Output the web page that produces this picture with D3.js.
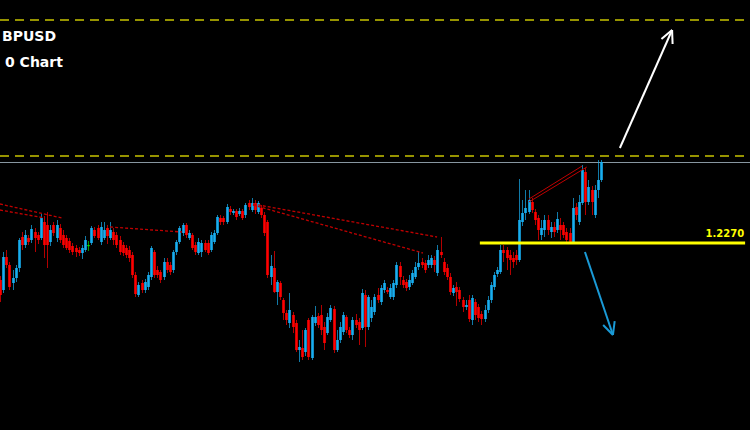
<!DOCTYPE html>
<html><head><meta charset="utf-8">
<script src="https://cdn.jsdelivr.net/npm/d3@7/dist/d3.min.js"></script>
<style>html,body{margin:0;padding:0;background:#000;overflow:hidden}</style>
</head><body><svg id="c" width="750" height="430"></svg>
<script>
// ---- DATA ----
const symbolText = "BPUSD";
const periodText = "0 Chart";
// [open, high, low, close]
const candleRows = [
[1.2233,1.2237,1.2211,1.2218],[1.2223,1.2261,1.2220,1.2256],[1.2256,1.2263,1.2245,1.2248],[1.2248,1.2251,1.2223,1.2226],
[1.2230,1.2243,1.2223,1.2235],[1.2235,1.2248,1.2231,1.2245],[1.2245,1.2275,1.2241,1.2273],[1.2276,1.2281,1.2263,1.2268],
[1.2268,1.2283,1.2265,1.2278],[1.2275,1.2278,1.2268,1.2271],[1.2273,1.2288,1.2270,1.2284],[1.2281,1.2285,1.2261,1.2275],
[1.2278,1.2281,1.2269,1.2273],[1.2275,1.2299,1.2273,1.2295],[1.2291,1.2297,1.2255,1.2268],[1.2288,1.2301,1.2245,1.2268],
[1.2271,1.2288,1.2267,1.2283],[1.2288,1.2291,1.2277,1.2280],[1.2275,1.2293,1.2271,1.2288],[1.2285,1.2289,1.2270,1.2273],
[1.2278,1.2283,1.2265,1.2268],[1.2275,1.2278,1.2263,1.2265],[1.2272,1.2275,1.2260,1.2263],[1.2267,1.2270,1.2258,1.2261],
[1.2265,1.2268,1.2256,1.2261],[1.2263,1.2266,1.2257,1.2260],[1.2260,1.2268,1.2254,1.2265],[1.2263,1.2277,1.2261,1.2273],
[1.2268,1.2272,1.2262,1.2268],[1.2270,1.2287,1.2268,1.2285],[1.2283,1.2286,1.2275,1.2277],[1.2285,1.2288,1.2273,1.2275],
[1.2271,1.2291,1.2268,1.2286],[1.2275,1.2291,1.2273,1.2283],[1.2285,1.2288,1.2269,1.2277],[1.2275,1.2291,1.2273,1.2283],
[1.2281,1.2285,1.2268,1.2273],[1.2278,1.2281,1.2265,1.2268],[1.2273,1.2277,1.2258,1.2261],[1.2268,1.2271,1.2257,1.2260],
[1.2265,1.2268,1.2255,1.2258],[1.2263,1.2267,1.2251,1.2255],[1.2258,1.2261,1.2235,1.2238],[1.2238,1.2241,1.2216,1.2219],
[1.2218,1.2231,1.2216,1.2228],[1.2230,1.2233,1.2220,1.2223],[1.2223,1.2234,1.2220,1.2231],[1.2226,1.2241,1.2223,1.2238],
[1.2236,1.2267,1.2233,1.2265],[1.2261,1.2263,1.2235,1.2238],[1.2243,1.2247,1.2235,1.2238],[1.2241,1.2243,1.2230,1.2233],
[1.2236,1.2255,1.2233,1.2251],[1.2251,1.2255,1.2240,1.2243],[1.2248,1.2251,1.2238,1.2241],[1.2243,1.2263,1.2240,1.2261],
[1.2261,1.2273,1.2258,1.2271],[1.2271,1.2287,1.2269,1.2285],[1.2280,1.2290,1.2277,1.2288],[1.2288,1.2290,1.2275,1.2278],
[1.2275,1.2283,1.2273,1.2280],[1.2278,1.2280,1.2263,1.2265],[1.2268,1.2271,1.2258,1.2261],[1.2260,1.2275,1.2258,1.2271],
[1.2261,1.2273,1.2256,1.2270],[1.2270,1.2273,1.2261,1.2263],[1.2270,1.2273,1.2258,1.2260],[1.2263,1.2281,1.2261,1.2278],
[1.2271,1.2283,1.2269,1.2280],[1.2280,1.2298,1.2278,1.2296],[1.2295,1.2298,1.2288,1.2291],[1.2295,1.2297,1.2288,1.2291],
[1.2291,1.2309,1.2289,1.2306],[1.2304,1.2307,1.2298,1.2301],[1.2300,1.2304,1.2298,1.2302],[1.2302,1.2304,1.2293,1.2296],
[1.2299,1.2305,1.2297,1.2302],[1.2302,1.2304,1.2293,1.2295],[1.2298,1.2310,1.2295,1.2308],[1.2310,1.2313,1.2303,1.2306],
[1.2303,1.2315,1.2301,1.2310],[1.2310,1.2313,1.2299,1.2303],[1.2301,1.2312,1.2299,1.2310],[1.2305,1.2308,1.2295,1.2298],
[1.2298,1.2301,1.2277,1.2280],[1.2291,1.2293,1.2235,1.2238],[1.2236,1.2258,1.2228,1.2247],[1.2245,1.2262,1.2220,1.2221],
[1.2221,1.2233,1.2208,1.2231],[1.2230,1.2232,1.2213,1.2216],[1.2213,1.2215,1.2193,1.2200],[1.2200,1.2203,1.2188,1.2193],
[1.2190,1.2220,1.2185,1.2203],[1.2198,1.2201,1.2180,1.2186],[1.2190,1.2193,1.2161,1.2163],[1.2163,1.2173,1.2151,1.2166],
[1.2165,1.2183,1.2153,1.2156],[1.2161,1.2185,1.2157,1.2183],[1.2193,1.2195,1.2153,1.2156],[1.2155,1.2198,1.2153,1.2196],
[1.2190,1.2207,1.2187,1.2196],[1.2197,1.2200,1.2185,1.2188],[1.2198,1.2208,1.2178,1.2183],[1.2186,1.2191,1.2163,1.2170],
[1.2180,1.2200,1.2178,1.2196],[1.2193,1.2208,1.2191,1.2205],[1.2204,1.2207,1.2160,1.2163],[1.2163,1.2183,1.2161,1.2173],
[1.2173,1.2191,1.2170,1.2186],[1.2181,1.2201,1.2178,1.2198],[1.2196,1.2198,1.2180,1.2183],[1.2183,1.2186,1.2175,1.2178],
[1.2178,1.2196,1.2173,1.2193],[1.2193,1.2199,1.2185,1.2188],[1.2191,1.2195,1.2168,1.2183],[1.2185,1.2224,1.2183,1.2220],
[1.2218,1.2223,1.2166,1.2186],[1.2186,1.2218,1.2183,1.2216],[1.2195,1.2213,1.2191,1.2206],[1.2201,1.2219,1.2198,1.2216],
[1.2218,1.2225,1.2210,1.2213],[1.2211,1.2228,1.2208,1.2225],[1.2223,1.2233,1.2220,1.2230],[1.2223,1.2226,1.2219,1.2221],
[1.2216,1.2229,1.2214,1.2225],[1.2216,1.2233,1.2213,1.2230],[1.2228,1.2251,1.2225,1.2248],[1.2247,1.2251,1.2228,1.2236],
[1.2233,1.2237,1.2225,1.2228],[1.2231,1.2234,1.2222,1.2225],[1.2226,1.2238,1.2223,1.2233],[1.2230,1.2243,1.2228,1.2240],
[1.2236,1.2251,1.2234,1.2246],[1.2246,1.2262,1.2243,1.2250],[1.2251,1.2255,1.2245,1.2248],[1.2250,1.2253,1.2240,1.2243],
[1.2248,1.2258,1.2245,1.2253],[1.2248,1.2258,1.2245,1.2255],[1.2253,1.2257,1.2241,1.2248],[1.2240,1.2268,1.2237,1.2263],
[1.2261,1.2276,1.2255,1.2258],[1.2251,1.2255,1.2238,1.2241],[1.2245,1.2249,1.2233,1.2236],[1.2236,1.2240,1.2218,1.2221],
[1.2220,1.2228,1.2217,1.2225],[1.2226,1.2231,1.2207,1.2221],[1.2223,1.2226,1.2211,1.2214],[1.2213,1.2216,1.2201,1.2206],
[1.2206,1.2213,1.2203,1.2208],[1.2213,1.2218,1.2191,1.2194],[1.2193,1.2218,1.2188,1.2215],[1.2211,1.2214,1.2193,1.2198],
[1.2206,1.2209,1.2191,1.2195],[1.2199,1.2202,1.2188,1.2194],[1.2194,1.2208,1.2191,1.2203],[1.2203,1.2217,1.2200,1.2213],
[1.2213,1.2231,1.2210,1.2228],[1.2226,1.2241,1.2223,1.2238],[1.2239,1.2246,1.2236,1.2243],[1.2241,1.2268,1.2239,1.2263],
[1.2263,1.2268,1.2251,1.2260],[1.2263,1.2266,1.2243,1.2255],[1.2258,1.2263,1.2238,1.2253],[1.2255,1.2261,1.2245,1.2251],
[1.2258,1.2263,1.2248,1.2253],[1.2253,1.2334,1.2251,1.2293],[1.2291,1.2313,1.2287,1.2300],[1.2300,1.2323,1.2293,1.2305],
[1.2301,1.2323,1.2299,1.2313],[1.2311,1.2315,1.2300,1.2303],[1.2301,1.2304,1.2288,1.2293],[1.2295,1.2298,1.2273,1.2283],
[1.2278,1.2293,1.2273,1.2285],[1.2283,1.2298,1.2276,1.2293],[1.2293,1.2298,1.2278,1.2283],[1.2281,1.2291,1.2275,1.2286],
[1.2286,1.2291,1.2276,1.2281],[1.2283,1.2301,1.2280,1.2294],[1.2288,1.2295,1.2273,1.2283],[1.2288,1.2291,1.2275,1.2278],
[1.2281,1.2285,1.2270,1.2273],[1.2280,1.2285,1.2270,1.2271],[1.2271,1.2315,1.2270,1.2305],[1.2306,1.2310,1.2293,1.2298],
[1.2291,1.2318,1.2288,1.2311],[1.2310,1.2348,1.2308,1.2343],[1.2341,1.2345,1.2298,1.2311],[1.2311,1.2333,1.2308,1.2326],
[1.2323,1.2327,1.2298,1.2311],[1.2298,1.2328,1.2295,1.2323],[1.2323,1.2353,1.2315,1.2333],[1.2333,1.2353,1.2331,1.2351]
];
// horizontal levels (price)
const dashedLevels = [1.2493, 1.2357];
const greyLevels = [1.2351];
const keyLevel = {price: 1.2270, from: 152.5, to: 236.8, label: "1.2270"};
// trend lines [[barIndex, price],[barIndex, price]]
const dashedTrends = [
  [[0,1.2309],[19.7,1.2295]],
  [[0,1.2303],[14.3,1.2295]],
  [[35,1.2286],[57.8,1.2281]],
  [[80.4,1.2309],[138.9,1.2276]],
  [[80.4,1.2308],[134.4,1.2260]]
];
const solidTrends = [
  [[168.1,1.2314],[185,1.2347]],
  [[168.1,1.2311],[186.5,1.2346]]
];
// arrows [[barIndex, price] start, end]
const upArrow = [[197.0,1.2365],[213.6,1.2483]];
const downArrow = [[185.9,1.2261],[194.8,1.2178]];

// ---- DRAW ----
const W = 750, H = 430;
const svg = d3.select("#c");
svg.append("rect").attr("width",W).attr("height",H).attr("fill","#000");

const x = d3.scaleLinear().domain([0, candleRows.length-1]).range([0, 601]);
const y = d3.scaleLinear().domain([1.2083, 1.2513]).range([H, 0]);

const BLUE = "#18aef0", RED = "#ff0000", GREEN = "#00e000";

svg.selectAll(".dl").data(dashedLevels).join("line")
  .attr("x1",0).attr("x2",W).attr("y1",d=>y(d)).attr("y2",d=>y(d))
  .attr("stroke","#c8c400").attr("stroke-width",1.3).attr("stroke-dasharray","9,6");
svg.selectAll(".gl").data(greyLevels).join("line")
  .attr("x1",0).attr("x2",W).attr("y1",d=>Math.round(y(d))+0.5).attr("y2",d=>Math.round(y(d))+0.5)
  .attr("stroke","#8796a0").attr("stroke-width",1);

const col = d => d[3] > d[0] ? BLUE : (d[3] < d[0] ? RED : GREEN);
const g = svg.append("g");
g.selectAll(".wick").data(candleRows).join("line")
  .attr("x1",(d,i)=>Math.round(x(i))+0.5).attr("x2",(d,i)=>Math.round(x(i))+0.5)
  .attr("y1",d=>y(d[1])).attr("y2",d=>y(d[2]))
  .attr("stroke",col).attr("stroke-opacity",0.7).attr("stroke-width",1);
g.selectAll(".body").data(candleRows).join("rect")
  .attr("x",(d,i)=>Math.round(x(i))-0.8).attr("width",2.6)
  .attr("y",d=>y(Math.max(d[0],d[3])))
  .attr("height",d=>Math.max(1.2, Math.abs(y(d[0])-y(d[3]))))
  .attr("fill",col);

const line = d3.line().x(p=>x(p[0])).y(p=>y(p[1]));
svg.selectAll(".dt").data(dashedTrends).join("path")
  .attr("d",line).attr("fill","none").attr("stroke","#c00000")
  .attr("stroke-width",1.3).attr("stroke-dasharray","3,2");
svg.selectAll(".st").data(solidTrends).join("path")
  .attr("d",line).attr("fill","none").attr("stroke","#c00000").attr("stroke-width",1);

svg.append("line")
  .attr("x1",x(keyLevel.from)).attr("x2",x(keyLevel.to))
  .attr("y1",y(keyLevel.price)).attr("y2",y(keyLevel.price))
  .attr("stroke","#ffff00").attr("stroke-width",3);
svg.append("text").attr("x",x(keyLevel.to)-1).attr("y",y(keyLevel.price)-6)
  .attr("text-anchor","end").attr("fill","#ffff00")
  .attr("font-family","DejaVu Sans").attr("font-weight","bold").attr("font-size",10)
  .text(keyLevel.label);

function arrow(a, color){
  const x1=x(a[0][0]), y1=y(a[0][1]), x2=x(a[1][0]), y2=y(a[1][1]);
  svg.append("line").attr("x1",x1).attr("y1",y1).attr("x2",x2).attr("y2",y2)
    .attr("stroke",color).attr("stroke-width",2);
  const ang = Math.atan2(y2-y1, x2-x1), L = 14, spread = 0.45;
  [ang+Math.PI-spread, ang+Math.PI+spread].forEach(t=>{
    svg.append("line").attr("x1",x2).attr("y1",y2)
      .attr("x2",x2+L*Math.cos(t)).attr("y2",y2+L*Math.sin(t))
      .attr("stroke",color).attr("stroke-width",2);
  });
}
arrow(upArrow, "#ffffff");
arrow(downArrow, "#1a9ad6");

svg.append("text").attr("x",2).attr("y",41).attr("fill","#fff")
  .attr("font-family","DejaVu Sans").attr("font-weight","bold").attr("font-size",14)
  .text(symbolText);
svg.append("text").attr("x",5).attr("y",67).attr("fill","#fff")
  .attr("font-family","DejaVu Sans").attr("font-weight","bold").attr("font-size",14)
  .text(periodText);
</script></body></html>
